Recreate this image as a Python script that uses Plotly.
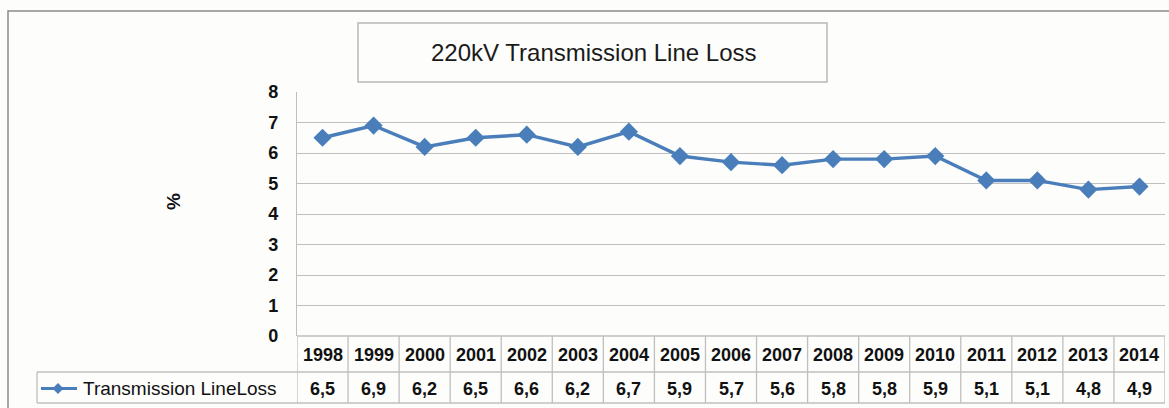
import plotly.graph_objects as go

years = ["1998", "1999", "2000", "2001", "2002", "2003", "2004", "2005", "2006",
         "2007", "2008", "2009", "2010", "2011", "2012", "2013", "2014"]
loss = [6.5, 6.9, 6.2, 6.5, 6.6, 6.2, 6.7, 5.9, 5.7, 5.6, 5.8, 5.8, 5.9, 5.1, 5.1, 4.8, 4.9]
yticks = [0, 1, 2, 3, 4, 5, 6, 7, 8]
series_name = "Transmission LineLoss"
title = "220kV Transmission Line Loss"

W, H = 1169, 408
def px(x): return x / W
def py(y): return 1 - y / H

PLOT_L, PLOT_R, PLOT_T, PLOT_B = 297, 1165, 92, 336
ROW1_B, ROW2_B = 372, 403
LEG_L = 37
BLUE = "#4a7ebb"
GRID = "#bfbfbf"
BG = "#fdfdfc"
FONT = "Liberation Sans, Arial, sans-serif"

fig = go.Figure()
fig.add_trace(go.Scatter(
    x=list(range(len(years))), y=loss, mode="lines+markers", name=series_name,
    line=dict(color=BLUE, width=3.4),
    marker=dict(symbol="diamond", size=14, color=BLUE),
    showlegend=False,
))

shapes = []
annotations = []

# outer border
shapes.append(dict(type="rect", xref="paper", yref="paper", x0=px(8), x1=px(1180),
                   y0=py(420), y1=py(11), line=dict(color="#8a8a8a", width=1.5)))
# title box
shapes.append(dict(type="rect", xref="paper", yref="paper", x0=px(358), x1=px(827),
                   y0=py(82), y1=py(23), line=dict(color="#b8b8b8", width=1.5),
                   fillcolor=BG))
annotations.append(dict(xref="paper", yref="paper", x=px(594), y=py(53), text=title,
                        showarrow=False, font=dict(family=FONT, size=24, color="#1a1a1a"),
                        xanchor="center", yanchor="middle"))
# y title
annotations.append(dict(xref="paper", yref="paper", x=px(173), y=py(202), text="<b>%</b>",
                        showarrow=False, textangle=-90,
                        font=dict(family=FONT, size=19, color="#111"),
                        xanchor="center", yanchor="middle"))

# data table lines
n = len(years)
line_style = dict(color=GRID, width=1.3)
shapes.append(dict(type="line", xref="x", yref="paper", x0=-0.5, x1=n - 0.5,
                   y0=py(PLOT_B), y1=py(PLOT_B), line=line_style))
shapes.append(dict(type="line", xref="paper", yref="paper", x0=px(LEG_L), x1=px(PLOT_R),
                   y0=py(ROW1_B), y1=py(ROW1_B), line=line_style))
shapes.append(dict(type="line", xref="paper", yref="paper", x0=px(LEG_L), x1=px(PLOT_R),
                   y0=py(ROW2_B), y1=py(ROW2_B), line=line_style))
shapes.append(dict(type="line", xref="paper", yref="paper", x0=px(LEG_L), x1=px(LEG_L),
                   y0=py(ROW1_B), y1=py(ROW2_B), line=line_style))
for i in range(n + 1):
    shapes.append(dict(type="line", xref="x", yref="paper", x0=i - 0.5, x1=i - 0.5,
                       y0=py(PLOT_B), y1=py(ROW2_B), line=line_style))
for i, (yr, v) in enumerate(zip(years, loss)):
    annotations.append(dict(xref="x", yref="paper", x=i, y=py((PLOT_B + ROW1_B) / 2 + 1),
                            text="<b>%s</b>" % yr, showarrow=False,
                            font=dict(family=FONT, size=18, color="#111"),
                            xanchor="center", yanchor="middle"))
    annotations.append(dict(xref="x", yref="paper", x=i, y=py((ROW1_B + ROW2_B) / 2 + 1),
                            text="<b>%s</b>" % ("%.1f" % v).replace(".", ","), showarrow=False,
                            font=dict(family=FONT, size=18, color="#111"),
                            xanchor="center", yanchor="middle"))

# legend key in the table row
ly = (ROW1_B + ROW2_B) / 2 + 1
shapes.append(dict(type="line", xref="paper", yref="paper", x0=px(41), x1=px(77),
                   y0=py(ly), y1=py(ly), line=dict(color=BLUE, width=3.2)))
cx, d = 58, 5.5
shapes.append(dict(type="path", xref="paper", yref="paper",
                   path="M %f %f L %f %f L %f %f L %f %f Z" % (
                       px(cx - d), py(ly), px(cx), py(ly - d), px(cx + d), py(ly), px(cx), py(ly + d)),
                   fillcolor=BLUE, line=dict(color=BLUE, width=0)))
annotations.append(dict(xref="paper", yref="paper", x=px(81), y=py(ly), text=series_name,
                        showarrow=False, font=dict(family=FONT, size=19, color="#111"),
                        xanchor="left", yanchor="middle"))

fig.update_layout(
    width=W, height=H,
    margin=dict(l=0, r=0, t=0, b=0, autoexpand=False),
    paper_bgcolor=BG, plot_bgcolor=BG,
    showlegend=False,
    xaxis=dict(domain=[px(PLOT_L), px(PLOT_R)], range=[-0.5, n - 0.5],
               showgrid=False, showticklabels=False, zeroline=False, showline=False,
               fixedrange=True),
    yaxis=dict(domain=[py(PLOT_B), py(PLOT_T)], range=[0, 8], tickvals=yticks,
               ticktext=["<b>%d</b>" % t for t in yticks],
               showgrid=True, gridcolor=GRID, gridwidth=1.3, zeroline=False,
               showline=True, linecolor=GRID, linewidth=1.3, ticks="",
               ticklabelstandoff=14,
               tickfont=dict(family=FONT, size=18, color="#111")),
    shapes=shapes,
    annotations=annotations,
)

fig.write_html("out.html", config={"displayModeBar": False},
               post_script="document.body.style.margin='0';document.body.style.overflow='hidden';")
